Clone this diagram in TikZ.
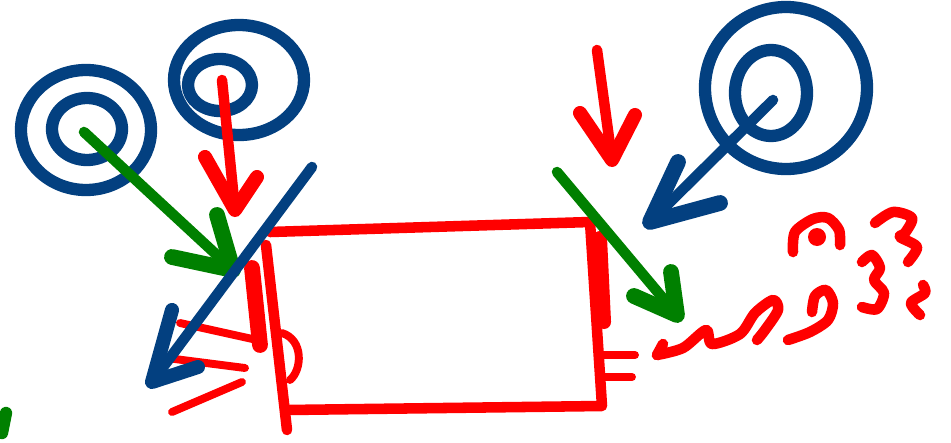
\documentclass[tikz,border=0pt]{standalone}
\usetikzlibrary{calc, positioning}
\definecolor{penblue}{RGB}{3,64,128}
\definecolor{penred}{RGB}{255,0,0}
\definecolor{pengreen}{RGB}{0,128,0}

\begin{document}
\begin{tikzpicture}[x=0.02cm, y=-0.02cm, line cap=round, line join=round,
  pen/.style={line width=6pt},
  bluepen/.style={pen, draw=penblue},
  redpen/.style={pen, draw=penred},
  greenpen/.style={pen, draw=pengreen}]
\useasboundingbox (0,0) rectangle (951,443);

% targets
\coordinate (T1) at (86,130);
\coordinate (T2) at (239,80);
\coordinate (T3) at (786,88);
\draw[bluepen, line width=7pt] (T1) ellipse (65 and 60);
\draw[bluepen, line width=7pt] (87,129) ellipse (35 and 31);
\draw[bluepen, line width=7pt] (T2) ellipse (65 and 55);
\draw[bluepen, line width=7pt] (220,85) ellipse (32 and 26);
\draw[bluepen, line width=7pt] (T3) ellipse (81 and 81);
\draw[bluepen, line width=7pt] (771,93) ellipse (36 and 43);

% box
\coordinate (RA) at (270,232);
\coordinate (RB) at (590,222);
\coordinate (RC) at (602,406);
\coordinate (RD) at (287,410);
\draw[redpen] (RA) -- (RB) -- (RC) -- (RD);
\draw[redpen] (266,245) -- (287,430);
\draw[redpen, line width=9pt] (252,268) -- (260,345);
\draw[redpen, line width=8pt] (600,238) -- (604,322);

% red rays left of box
\draw[redpen, line width=4.5pt] (180,323) -- (257,340);
\draw[redpen, line width=4.5pt] (167,358) -- (245,368);
\draw[redpen, line width=4.5pt] (172,412) -- (242,382);
\draw[redpen, line width=4.5pt] (282,333) .. controls (304,340) and (302,370) .. (290,380);

% red ticks right of box
\draw[redpen, line width=4.5pt] (603,355) -- (635,355);
\draw[redpen, line width=4.5pt] (605,377) -- (632,377);

% arrows left
\coordinate (G1s) at (84,132);
\coordinate (G1t) at (233,270);
\draw[greenpen] (G1s) -- (G1t);
\draw[greenpen, line width=9pt] (217,215) -- (G1t) -- (172,257);
\coordinate (R1s) at (222,80);
\coordinate (R1t) at (235,210);
\draw[redpen] (R1s) -- (R1t);
\draw[redpen, line width=8pt] (205,157) -- (R1t) -- (257,177);
\coordinate (B1s) at (312,167);
\coordinate (B1t) at (152,382);
\draw[bluepen] (B1s) -- (B1t);
\draw[bluepen, line width=8pt] (172,310) -- (B1t) -- (198,367);

% arrows right
\coordinate (R2s) at (597,50);
\coordinate (R2t) at (612,160);
\draw[redpen] (R2s) -- (R2t);
\draw[redpen, line width=8pt] (580,113) -- (R2t) -- (635,115);
\coordinate (G2s) at (557,172);
\coordinate (G2t) at (677,315);
\draw[greenpen] (G2s) -- (G2t);
\draw[greenpen, line width=9pt] (671,272) -- (G2t) -- (634,296);
\coordinate (B2s) at (773,100);
\coordinate (B2t) at (650,222);
\draw[bluepen] (B2s) -- (B2t);
\draw[bluepen, line width=9pt] (678,162) -- (B2t) -- (720,203);

% scribble
\draw[redpen] (663,344) -- (657,355);
\draw[redpen] plot[smooth] coordinates {(657,355) (683,348) (706,330) (712,344)
  (740,334) (755,313) (773,300) (778,310) (765,330) (757,340)};
\draw[redpen] plot[smooth] coordinates {(788,340) (810,332) (828,320) (833,303) (826,290) (815,296) (812,312)};
\draw[redpen] plot[smooth] coordinates {(793,252) (795,232) (813,219) (828,218) (839,230) (840,245)};
\fill[penred] (817,237) circle (9);
\draw[redpen] plot[smooth] coordinates {(875,223) (893,212) (912,218) (905,233) (900,237) (917,247) (908,262)};
\draw[redpen] plot[smooth] coordinates {(862,262) (872,255) (880,268) (874,280) (884,293) (877,309) (862,307)};
\draw[redpen] plot[smooth] coordinates {(923,285) (925,293) (911,303) (920,315)};

% green mark at edge
\draw[greenpen, line width=7pt] (6,413) -- (2,433);
\end{tikzpicture}
\end{document}
